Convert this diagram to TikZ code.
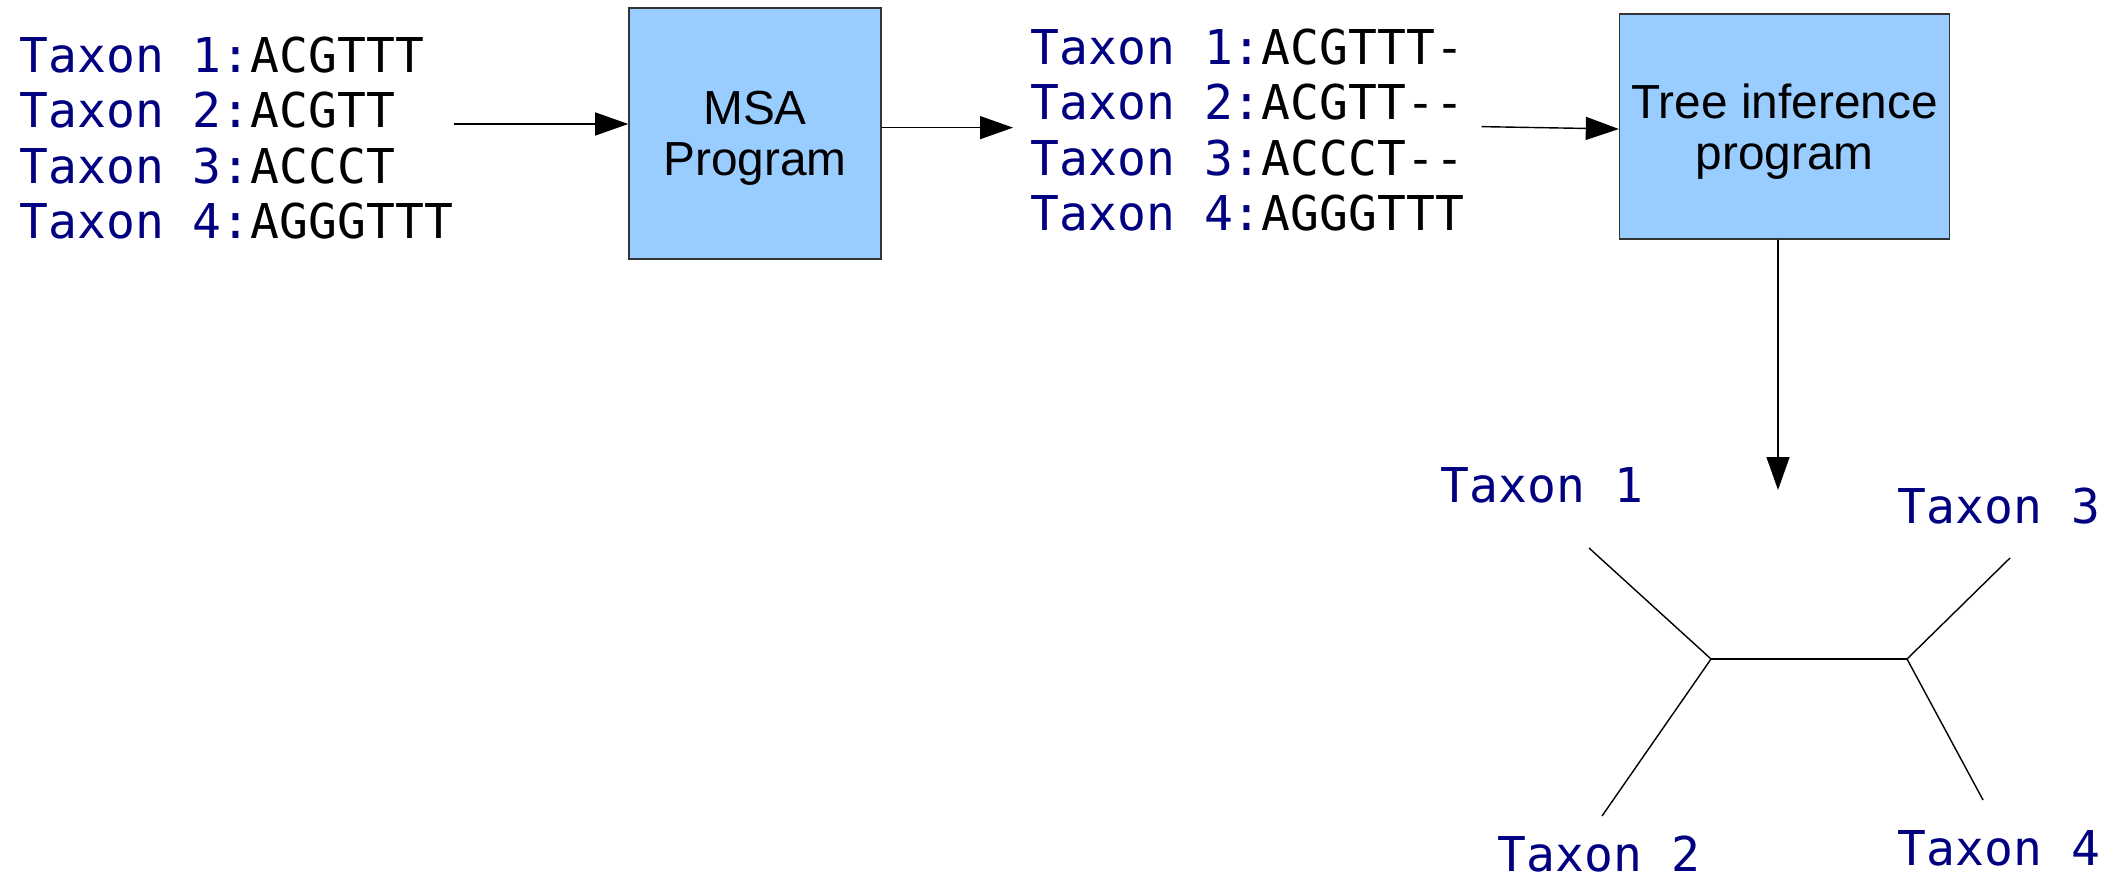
\documentclass[tikz,border=0pt]{standalone}
\usepackage{fontspec}
\setmainfont{Liberation Sans}
\setmonofont{DejaVu Sans Mono}
\usepackage{xcolor}
\usepackage{tikz}
\usetikzlibrary{arrows.meta,positioning}
\definecolor{TaxonBlue}{RGB}{0,0,128}
\definecolor{BoxBlue}{RGB}{153,204,255}
\newcommand{\taxon}[1]{\textcolor{TaxonBlue}{Taxon #1}}

\begin{document}
\begin{tikzpicture}[
		seqs/.style={align=left, inner sep=0pt, font=\ttfamily\fontsize{13.65}{15.8}\selectfont},
		prog/.style={draw=black!80, fill=BoxBlue, line width=0.45pt, align=center, text depth=0pt, font=\fontsize{13.6}{14.6}\selectfont},
		flow/.style={-{Triangle[length=3.3mm,width=2.3mm]}, line width=0.4pt},
		leaf/.style={inner sep=0pt, anchor=base west, text=TaxonBlue, font=\ttfamily\fontsize{13.65}{15.8}\selectfont},
		branch/.style={line width=0.4pt}
	]
		\useasboundingbox (0,0) rectangle (21.11,-8.78);
		
		% 原始序列
		\node[seqs, anchor=north west] (rawseqs) at (0.19,-0.36)
			{\taxon{1:}ACGTTT\\\taxon{2:}ACGTT\\\taxon{3:}ACCCT\\\taxon{4:}AGGGTTT};
		
		% 多序列比对
		\node[prog, minimum width=2.52cm, minimum height=2.51cm] (msa) at (7.55,-1.335) {MSA\\Program};
		
		% 比对后的序列
		\node[seqs, anchor=north west, inner xsep=1.7mm] (aligned) at (10.13,-0.28)
			{\taxon{1:}ACGTTT-\\\taxon{2:}ACGTT--\\\taxon{3:}ACCCT--\\\taxon{4:}AGGGTTT};
		
		% 建树程序
		\node[prog, minimum width=3.29cm, minimum height=2.25cm] (treeprog) at (17.845,-1.265) {Tree inference\\program};
		
		% 箭头
		\coordinate (msain) at ([yshift=0.95mm]msa.west);
		\coordinate (alignin) at ([yshift=0.25mm]aligned.west);
		\coordinate (treetip) at (17.78,-4.90);
		\draw[flow] (rawseqs.east |- msain) -- (msain);
		\draw[flow] (msa.east |- alignin) -- (alignin);
		\draw[flow] ([yshift=0.35mm]aligned.east) -- ([yshift=-0.25mm]treeprog.west);
		\draw[flow] (treeprog.south -| treetip) -- (treetip);
		
		% 无根树
		\coordinate (n1) at (17.11,-6.59);
		\coordinate (n2) at (19.07,-6.59);
		\coordinate (l1) at (15.89,-5.48);
		\coordinate (l2) at (16.02,-8.16);
		\coordinate (l3) at (20.10,-5.58);
		\coordinate (l4) at (19.83,-8.00);
		\draw[branch] (l1) -- (n1) -- (l2);
		\draw[branch] (n1) -- (n2);
		\draw[branch] (l3) -- (n2) -- (l4);
		
		\node[leaf] (t1) at (14.40,-5.02) {Taxon 1};
		\node[leaf] (t2) at (14.97,-8.71) {Taxon 2};
		\node[leaf] (t3) at (18.97,-5.23) {Taxon 3};
		\node[leaf] (t4) at (18.97,-8.65) {Taxon 4};
	\end{tikzpicture}
\end{document}
